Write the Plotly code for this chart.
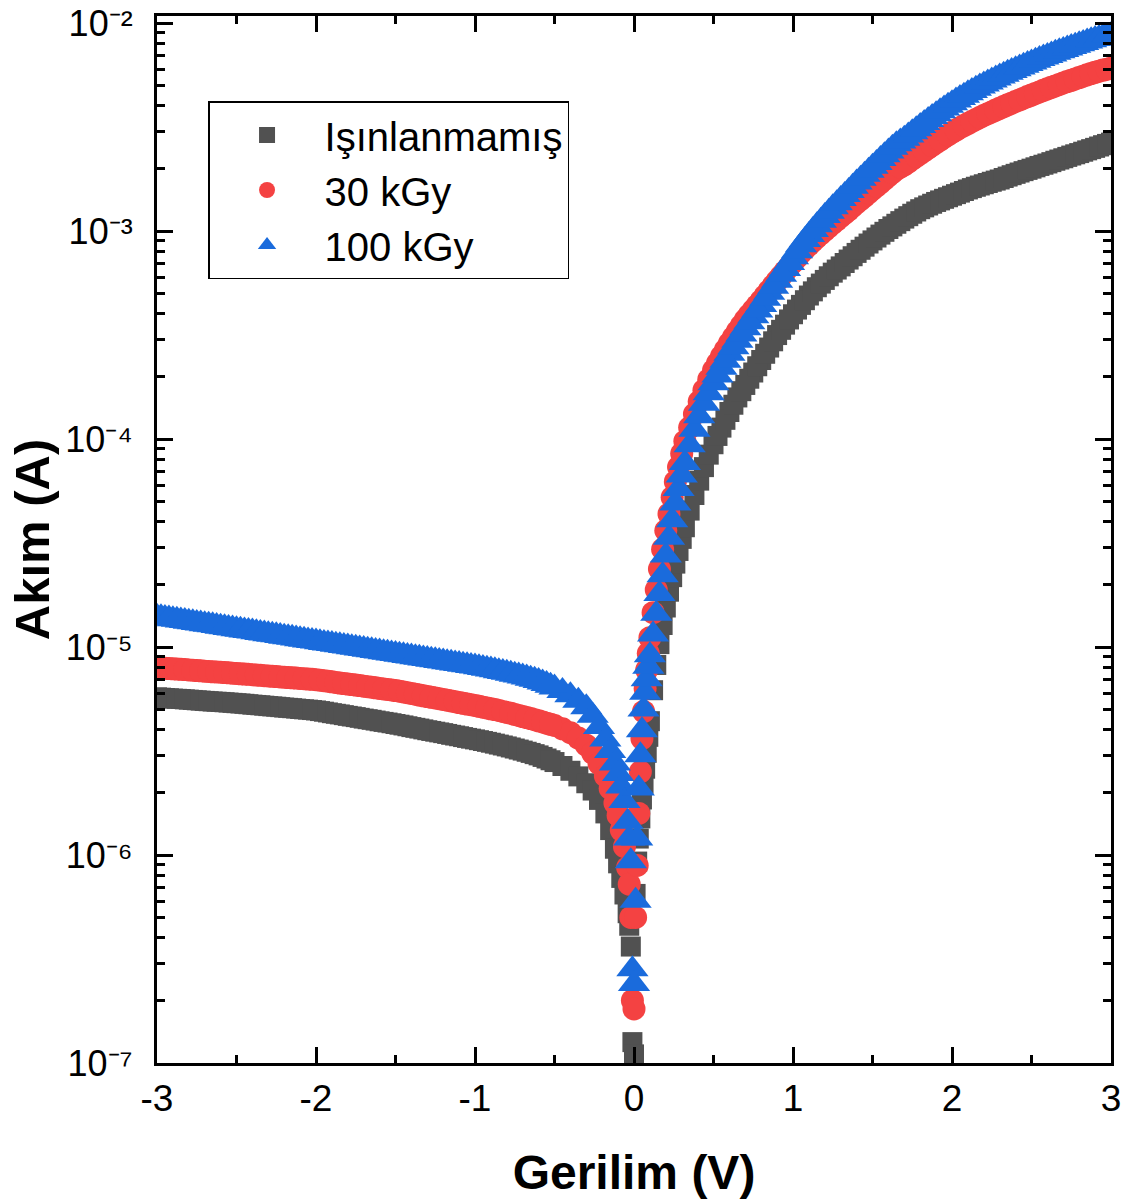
import plotly.graph_objects as go

# Voltage (V)
voltage = [
    -3.00, -2.95, -2.90, -2.85, -2.80, -2.75, -2.70, -2.65, -2.60, -2.55,
    -2.50, -2.45, -2.40, -2.35, -2.30, -2.25, -2.20, -2.15, -2.10, -2.05,
    -2.00, -1.95, -1.90, -1.85, -1.80, -1.75, -1.70, -1.65, -1.60, -1.55,
    -1.50, -1.45, -1.40, -1.35, -1.30, -1.25, -1.20, -1.15, -1.10, -1.05,
    -1.00, -0.95, -0.90, -0.85, -0.80, -0.75, -0.70, -0.65, -0.60, -0.55,
    -0.50, -0.45, -0.40, -0.35, -0.30, -0.26, -0.22, -0.18, -0.15, -0.12,
    -0.10, -0.08, -0.06, -0.04, -0.03, -0.02, -0.01, 0.00,
    0.01, 0.02, 0.03, 0.04, 0.05, 0.06, 0.07, 0.08, 0.09, 0.10,
    0.12, 0.14, 0.16, 0.18, 0.20, 0.22, 0.24, 0.26, 0.28, 0.30, 0.32,
    0.35, 0.38, 0.41, 0.44, 0.47,
    0.50, 0.55, 0.60, 0.65, 0.70, 0.75, 0.80, 0.85, 0.90, 0.95,
    1.00, 1.05, 1.10, 1.15, 1.20, 1.25, 1.30, 1.35, 1.40, 1.45,
    1.50, 1.55, 1.60, 1.65, 1.70, 1.75, 1.80, 1.85, 1.90, 1.95,
    2.00, 2.05, 2.10, 2.15, 2.20, 2.25, 2.30, 2.35, 2.40, 2.45,
    2.50, 2.55, 2.60, 2.65, 2.70, 2.75, 2.80, 2.85, 2.90, 2.95,
    3.00,
]

# Extra readings between the points above, in the flat parts of the curves
voltage_mid = [
    -2.975, -2.925, -2.875, -2.825, -2.775, -2.725, -2.675, -2.625, -2.575, -2.525,
    -2.475, -2.425, -2.375, -2.325, -2.275, -2.225, -2.175, -2.125, -2.075, -2.025,
    -1.975, -1.925, -1.875, -1.825, -1.775, -1.725, -1.675, -1.625, -1.575, -1.525,
    -1.475, -1.425, -1.375, -1.325, -1.275, -1.225, -1.175, -1.125, -1.075, -1.025,
    -0.975, -0.925, -0.875, -0.825, -0.775, -0.725, -0.675, -0.625, -0.575, -0.525,
    0.525, 0.575, 0.625, 0.675, 0.725, 0.775, 0.825, 0.875, 0.925, 0.975,
    1.025, 1.075, 1.125, 1.175, 1.225, 1.275, 1.325, 1.375, 1.425, 1.475,
    1.525, 1.575, 1.625, 1.675, 1.725, 1.775, 1.825, 1.875, 1.925, 1.975,
    2.025, 2.075, 2.125, 2.175, 2.225, 2.275, 2.325, 2.375, 2.425, 2.475,
    2.525, 2.575, 2.625, 2.675, 2.725, 2.775, 2.825, 2.875, 2.925, 2.975,
]

# Current (A) - unirradiated
current_unirradiated = [
    5.728e-6, 5.689e-6, 5.649e-6, 5.623e-6, 5.585e-6, 5.546e-6, 5.508e-6, 5.470e-6, 5.445e-6, 5.408e-6,
    5.370e-6, 5.333e-6, 5.284e-6, 5.248e-6, 5.200e-6, 5.164e-6, 5.117e-6, 5.082e-6, 5.035e-6, 5.000e-6,
    4.955e-6, 4.887e-6, 4.808e-6, 4.742e-6, 4.667e-6, 4.603e-6, 4.529e-6, 4.467e-6, 4.395e-6, 4.335e-6,
    4.266e-6, 4.198e-6, 4.121e-6, 4.055e-6, 3.981e-6, 3.917e-6, 3.855e-6, 3.784e-6, 3.724e-6, 3.656e-6,
    3.597e-6, 3.532e-6, 3.467e-6, 3.396e-6, 3.327e-6, 3.251e-6, 3.177e-6, 3.097e-6, 3.013e-6, 2.911e-6,
    2.799e-6, 2.679e-6, 2.541e-6, 2.388e-6, 2.213e-6, 2.042e-6, 1.841e-6, 1.585e-6, 1.318e-6, 1.072e-6,
    9.12e-7, 7.76e-7, 6.46e-7, 5.25e-7, 4.57e-7, 3.63e-7, 1.26e-7, 1.10e-7,
    6.5e-7, 9.3e-7, 1.20e-6, 1.50e-6, 1.85e-6, 2.20e-6, 2.60e-6, 3.10e-6, 3.70e-6, 4.40e-6,
    6.20e-6, 8.20e-6, 1.033e-5, 1.276e-5, 1.549e-5, 1.845e-5, 2.168e-5, 2.518e-5, 2.897e-5, 3.311e-5, 3.767e-5,
    4.529e-5, 5.383e-5, 6.310e-5, 7.328e-5, 8.414e-5,
    9.44e-5, 1.135e-4, 1.349e-4, 1.585e-4, 1.820e-4, 2.089e-4, 2.399e-4, 2.754e-4, 3.162e-4, 3.548e-4,
    3.981e-4, 4.416e-4, 4.898e-4, 5.370e-4, 5.821e-4, 6.310e-4, 6.761e-4, 7.295e-4, 7.852e-4, 8.414e-4,
    9.016e-4, 9.616e-4, 1.023e-3, 1.084e-3, 1.148e-3, 1.211e-3, 1.274e-3, 1.327e-3, 1.380e-3, 1.429e-3,
    1.479e-3, 1.531e-3, 1.585e-3, 1.633e-3, 1.679e-3, 1.726e-3, 1.770e-3, 1.828e-3, 1.884e-3, 1.941e-3,
    1.995e-3, 2.056e-3, 2.113e-3, 2.178e-3, 2.239e-3, 2.307e-3, 2.371e-3, 2.443e-3, 2.512e-3, 2.588e-3,
    2.661e-3,
]
current_unirradiated_mid = [
    5.709e-6, 5.669e-6, 5.636e-6, 5.604e-6, 5.566e-6, 5.527e-6, 5.489e-6, 5.458e-6, 5.427e-6, 5.389e-6,
    5.352e-6, 5.309e-6, 5.266e-6, 5.224e-6, 5.182e-6, 5.141e-6, 5.100e-6, 5.059e-6, 5.018e-6, 4.978e-6,
    4.921e-6, 4.848e-6, 4.775e-6, 4.705e-6, 4.635e-6, 4.566e-6, 4.498e-6, 4.431e-6, 4.365e-6, 4.301e-6,
    4.232e-6, 4.160e-6, 4.088e-6, 4.018e-6, 3.949e-6, 3.886e-6, 3.820e-6, 3.754e-6, 3.690e-6, 3.627e-6,
    3.565e-6, 3.500e-6, 3.432e-6, 3.362e-6, 3.289e-6, 3.214e-6, 3.137e-6, 3.055e-6, 2.962e-6, 2.855e-6,
    1.035e-4, 1.237e-4, 1.462e-4, 1.699e-4, 1.950e-4, 2.239e-4, 2.570e-4, 2.951e-4, 3.350e-4, 3.758e-4,
    4.193e-4, 4.651e-4, 5.129e-4, 5.591e-4, 6.061e-4, 6.531e-4, 7.023e-4, 7.568e-4, 8.128e-4, 8.710e-4,
    9.311e-4, 9.918e-4, 1.053e-3, 1.116e-3, 1.179e-3, 1.242e-3, 1.300e-3, 1.353e-3, 1.404e-3, 1.454e-3,
    1.505e-3, 1.558e-3, 1.609e-3, 1.656e-3, 1.702e-3, 1.748e-3, 1.799e-3, 1.856e-3, 1.912e-3, 1.968e-3,
    2.025e-3, 2.084e-3, 2.145e-3, 2.208e-3, 2.273e-3, 2.339e-3, 2.407e-3, 2.477e-3, 2.550e-3, 2.624e-3,
]

# Current (A) - 30 kGy
current_30kgy = [
    7.962e-6, 7.907e-6, 7.852e-6, 7.816e-6, 7.762e-6, 7.709e-6, 7.656e-6, 7.603e-6, 7.568e-6, 7.516e-6,
    7.464e-6, 7.413e-6, 7.362e-6, 7.311e-6, 7.261e-6, 7.211e-6, 7.161e-6, 7.112e-6, 7.063e-6, 7.015e-6,
    6.966e-6, 6.887e-6, 6.808e-6, 6.714e-6, 6.637e-6, 6.561e-6, 6.486e-6, 6.412e-6, 6.324e-6, 6.252e-6,
    6.180e-6, 6.081e-6, 5.984e-6, 5.875e-6, 5.781e-6, 5.689e-6, 5.598e-6, 5.508e-6, 5.408e-6, 5.321e-6,
    5.236e-6, 5.140e-6, 5.047e-6, 4.955e-6, 4.853e-6, 4.742e-6, 4.634e-6, 4.529e-6, 4.416e-6, 4.305e-6,
    4.198e-6, 4.046e-6, 3.873e-6, 3.648e-6, 3.373e-6, 3.090e-6, 2.754e-6, 2.399e-6, 2.089e-6, 1.778e-6,
    1.549e-6, 1.318e-6, 1.096e-6, 8.71e-7, 7.24e-7, 5.01e-7, 2.00e-7, 1.82e-7,
    5.01e-7, 8.91e-7, 1.585e-6, 2.512e-6, 3.631e-6, 4.898e-6, 6.310e-6, 7.762e-6, 9.333e-6, 1.109e-5,
    1.462e-5, 1.884e-5, 2.371e-5, 2.951e-5, 3.631e-5, 4.365e-5, 5.248e-5, 6.237e-5, 7.328e-5, 8.511e-5, 9.772e-5,
    1.135e-4, 1.318e-4, 1.514e-4, 1.718e-4, 1.928e-4,
    2.138e-4, 2.500e-4, 2.884e-4, 3.296e-4, 3.741e-4, 4.169e-4, 4.624e-4, 5.164e-4, 5.768e-4, 6.397e-4,
    7.063e-4, 7.852e-4, 8.570e-4, 9.333e-4, 1.009e-3, 1.089e-3, 1.172e-3, 1.262e-3, 1.365e-3, 1.469e-3,
    1.585e-3, 1.706e-3, 1.841e-3, 1.977e-3, 2.080e-3, 2.218e-3, 2.360e-3, 2.506e-3, 2.661e-3, 2.818e-3,
    2.979e-3, 3.141e-3, 3.289e-3, 3.443e-3, 3.597e-3, 3.741e-3, 3.890e-3, 4.046e-3, 4.198e-3, 4.355e-3,
    4.508e-3, 4.667e-3, 4.831e-3, 4.989e-3, 5.152e-3, 5.309e-3, 5.470e-3, 5.636e-3, 5.794e-3, 5.943e-3,
    6.067e-3,
]
current_30kgy_mid = [
    7.935e-6, 7.880e-6, 7.834e-6, 7.789e-6, 7.736e-6, 7.683e-6, 7.630e-6, 7.586e-6, 7.542e-6, 7.490e-6,
    7.439e-6, 7.388e-6, 7.337e-6, 7.286e-6, 7.236e-6, 7.186e-6, 7.137e-6, 7.088e-6, 7.039e-6, 6.991e-6,
    6.927e-6, 6.848e-6, 6.761e-6, 6.676e-6, 6.599e-6, 6.524e-6, 6.449e-6, 6.368e-6, 6.288e-6, 6.216e-6,
    6.131e-6, 6.033e-6, 5.930e-6, 5.828e-6, 5.735e-6, 5.644e-6, 5.553e-6, 5.458e-6, 5.365e-6, 5.279e-6,
    5.188e-6, 5.094e-6, 5.001e-6, 4.904e-6, 4.798e-6, 4.688e-6, 4.582e-6, 4.473e-6, 4.361e-6, 4.252e-6,
    2.312e-4, 2.685e-4, 3.083e-4, 3.512e-4, 3.949e-4, 4.391e-4, 4.887e-4, 5.458e-4, 6.074e-4, 6.722e-4,
    7.447e-4, 8.203e-4, 8.944e-4, 9.704e-4, 1.048e-3, 1.130e-3, 1.216e-3, 1.313e-3, 1.416e-3, 1.526e-3,
    1.644e-3, 1.772e-3, 1.908e-3, 2.028e-3, 2.148e-3, 2.288e-3, 2.432e-3, 2.582e-3, 2.738e-3, 2.897e-3,
    3.059e-3, 3.214e-3, 3.365e-3, 3.519e-3, 3.668e-3, 3.815e-3, 3.967e-3, 4.121e-3, 4.276e-3, 4.431e-3,
    4.587e-3, 4.748e-3, 4.909e-3, 5.070e-3, 5.230e-3, 5.389e-3, 5.552e-3, 5.714e-3, 5.868e-3, 6.004e-3,
]

# Current (A) - 100 kGy
current_100kgy = [
    1.400e-5, 1.380e-5, 1.361e-5, 1.343e-5, 1.324e-5, 1.306e-5, 1.288e-5, 1.271e-5, 1.253e-5, 1.236e-5,
    1.219e-5, 1.202e-5, 1.186e-5, 1.169e-5, 1.153e-5, 1.138e-5, 1.122e-5, 1.107e-5, 1.091e-5, 1.076e-5,
    1.062e-5, 1.047e-5, 1.033e-5, 1.019e-5, 1.005e-5, 9.908e-6, 9.772e-6, 9.638e-6, 9.506e-6, 9.376e-6,
    9.247e-6, 9.120e-6, 8.995e-6, 8.872e-6, 8.750e-6, 8.630e-6, 8.511e-6, 8.395e-6, 8.279e-6, 8.166e-6,
    8.054e-6, 7.925e-6, 7.798e-6, 7.656e-6, 7.516e-6, 7.362e-6, 7.211e-6, 7.047e-6, 6.871e-6, 6.637e-6,
    6.397e-6, 6.138e-6, 5.861e-6, 5.521e-6, 5.129e-6, 4.677e-6, 4.121e-6, 3.589e-6, 3.162e-6, 2.754e-6,
    2.455e-6, 2.138e-6, 1.820e-6, 1.445e-6, 1.202e-6, 9.33e-7, 2.82e-7, 2.40e-7,
    6.03e-7, 1.202e-6, 2.089e-6, 3.020e-6, 3.981e-6, 5.012e-6, 6.026e-6, 6.998e-6, 8.035e-6, 9.120e-6,
    1.148e-5, 1.445e-5, 1.799e-5, 2.213e-5, 2.754e-5, 3.350e-5, 4.074e-5, 4.898e-5, 5.754e-5, 6.683e-5, 7.674e-5,
    9.333e-5, 1.109e-4, 1.288e-4, 1.479e-4, 1.660e-4,
    1.854e-4, 2.203e-4, 2.570e-4, 2.972e-4, 3.412e-4, 3.890e-4, 4.416e-4, 5.047e-4, 5.768e-4, 6.577e-4,
    7.482e-4, 8.551e-4, 9.572e-4, 1.067e-3, 1.180e-3, 1.300e-3, 1.426e-3, 1.560e-3, 1.710e-3, 1.866e-3,
    2.037e-3, 2.218e-3, 2.415e-3, 2.618e-3, 2.780e-3, 2.985e-3, 3.199e-3, 3.420e-3, 3.648e-3, 3.882e-3,
    4.121e-3, 4.365e-3, 4.592e-3, 4.831e-3, 5.070e-3, 5.297e-3, 5.534e-3, 5.768e-3, 5.998e-3, 6.237e-3,
    6.471e-3, 6.714e-3, 6.950e-3, 7.194e-3, 7.430e-3, 7.674e-3, 7.907e-3, 8.147e-3, 8.375e-3, 8.590e-3,
    8.770e-3,
]
current_100kgy_mid = [
    1.390e-5, 1.371e-5, 1.352e-5, 1.334e-5, 1.315e-5, 1.297e-5, 1.280e-5, 1.262e-5, 1.245e-5, 1.228e-5,
    1.211e-5, 1.194e-5, 1.178e-5, 1.161e-5, 1.146e-5, 1.130e-5, 1.115e-5, 1.099e-5, 1.084e-5, 1.069e-5,
    1.055e-5, 1.040e-5, 1.026e-5, 1.012e-5, 9.979e-6, 9.840e-6, 9.705e-6, 9.572e-6, 9.441e-6, 9.312e-6,
    9.184e-6, 9.058e-6, 8.934e-6, 8.811e-6, 8.690e-6, 8.571e-6, 8.453e-6, 8.337e-6, 8.223e-6, 8.110e-6,
    7.990e-6, 7.862e-6, 7.727e-6, 7.586e-6, 7.439e-6, 7.287e-6, 7.129e-6, 6.959e-6, 6.754e-6, 6.517e-6,
    2.021e-4, 2.379e-4, 2.764e-4, 3.184e-4, 3.643e-4, 4.145e-4, 4.721e-4, 5.395e-4, 6.160e-4, 7.015e-4,
    7.999e-4, 9.047e-4, 1.011e-3, 1.122e-3, 1.239e-3, 1.362e-3, 1.492e-3, 1.633e-3, 1.786e-3, 1.950e-3,
    2.126e-3, 2.315e-3, 2.514e-3, 2.698e-3, 2.881e-3, 3.090e-3, 3.308e-3, 3.532e-3, 3.763e-3, 4.000e-3,
    4.241e-3, 4.477e-3, 4.710e-3, 4.949e-3, 5.182e-3, 5.414e-3, 5.650e-3, 5.882e-3, 6.116e-3, 6.353e-3,
    6.591e-3, 6.831e-3, 7.071e-3, 7.311e-3, 7.551e-3, 7.790e-3, 8.026e-3, 8.260e-3, 8.482e-3, 8.680e-3,
]

series_names = ["Işınlanmamış", "30 kGy", "100 kGy"]
x_tick_vals = [-3, -2, -1, 0, 1, 2, 3]
x_tick_text = ["-3", "-2", "-1", "0", "1", "2", "3"]
x_minor_vals = [-2.5, -1.5, -0.5, 0.5, 1.5, 2.5]
y_tick_vals = [1e-7, 1e-6, 1e-5, 1e-4, 1e-3, 1e-2]
y_tick_text = ["10⁻⁷", "10⁻⁶", "10⁻⁵", "10⁻⁴", "10⁻³", "10⁻²"]

FONT = "Liberation Sans, Arial, sans-serif"

series = [
    (series_names[0], current_unirradiated, current_unirradiated_mid, "square", 20, "#515151"),
    (series_names[1], current_30kgy, current_30kgy_mid, "circle", 23, "#F44242"),
    (series_names[2], current_100kgy, current_100kgy_mid, "triangle-up", 28, "#1A6BDC"),
]

fig = go.Figure()
for name, cur, cur_mid, sym, size, color in series:
    fig.add_trace(go.Scatter(
        x=voltage + voltage_mid, y=cur + cur_mid, mode="markers", name=name,
        marker=dict(symbol=sym, size=size, color=color, line=dict(width=0)),
    ))

fig.update_layout(
    width=1138, height=1204,
    margin=dict(l=157, r=27, t=16, b=141, autoexpand=False),
    plot_bgcolor="white", paper_bgcolor="white",
    font=dict(family=FONT, color="black"),
    showlegend=True,
    legend=dict(
        x=0.0535, y=0.9188, xanchor="left", yanchor="top",
        bgcolor="white", bordercolor="black", borderwidth=1.5,
        font=dict(size=40, family=FONT, color="black"),
        itemwidth=105, tracegroupgap=0,
    ),
)

fig.update_xaxes(
    range=[-3, 3], tickvals=x_tick_vals, ticktext=x_tick_text,
    automargin=False,
    ticks="inside", ticklen=16, tickwidth=2.7, tickcolor="black",
    showline=True, linewidth=3.3, linecolor="black", mirror="ticks",
    showgrid=False, zeroline=False,
    tickfont=dict(size=37, family=FONT, color="black"),
    minor=dict(tickvals=x_minor_vals, ticks="inside",
               ticklen=8, tickwidth=2.7, tickcolor="black", showgrid=False),
    title=dict(text="<b>Gerilim (V)</b>", font=dict(size=48, family=FONT, color="black"),
               standoff=38),
)

fig.update_yaxes(
    type="log", range=[-7, -1.966], tickvals=y_tick_vals, ticktext=y_tick_text,
    automargin=False,
    ticks="inside", ticklen=16, tickwidth=2.7, tickcolor="black",
    showline=True, linewidth=3.3, linecolor="black", mirror="ticks",
    showgrid=False, zeroline=False,
    tickfont=dict(size=36, family=FONT, color="black"),
    ticklabelstandoff=14, ticklabeloverflow="allow",
    minor=dict(ticks="inside", ticklen=8, tickwidth=2.7, tickcolor="black",
               dtick="D1", showgrid=False),
    title=dict(text="<b>Akım (A)</b>", font=dict(size=49, family=FONT, color="black"),
               standoff=0),
)

# remove the browser's default 8px page margin so the figure fills the window
fig.write_html(
    "out.html",
    config={"displayModeBar": False},
    post_script="document.body.style.margin='0';document.body.style.overflow='hidden';",
)
